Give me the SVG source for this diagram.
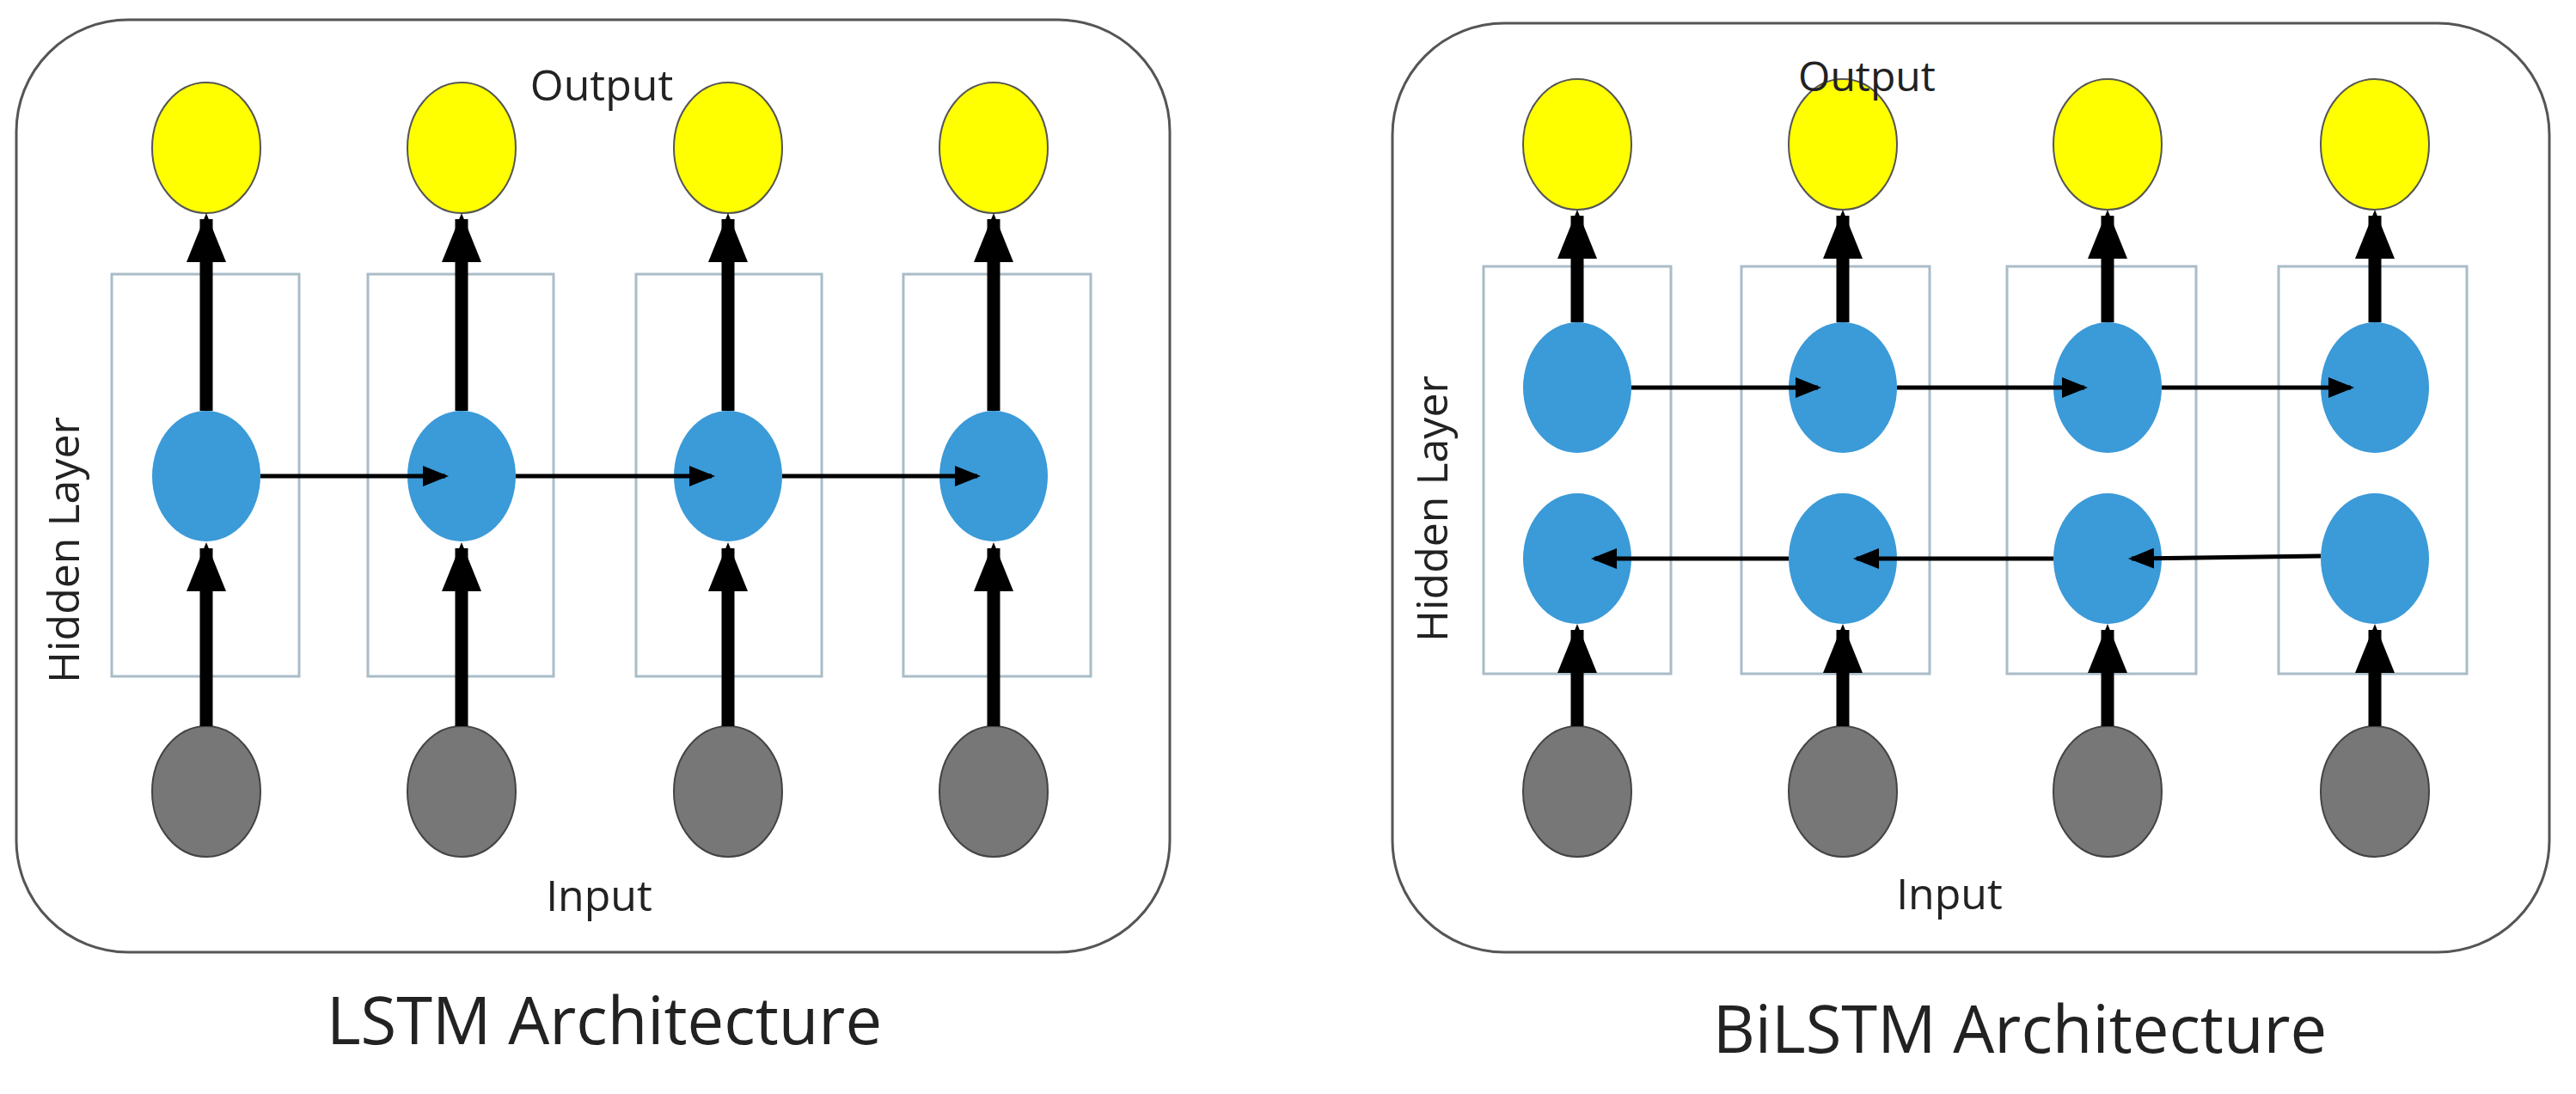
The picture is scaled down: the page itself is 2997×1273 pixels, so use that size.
<svg xmlns="http://www.w3.org/2000/svg" width="2997" height="1273" viewBox="0 0 2997 1273">
<style>
.frame{fill:#fff;stroke:#555;stroke-width:3}
.cell{fill:none;stroke:#a9bcc8;stroke-width:3}
.out{fill:#ffff00;stroke:#555;stroke-width:2}
.hid{fill:#3b9ad8}
.in{fill:#777;stroke:#444;stroke-width:2}
.t{font-family:"Open Sans","Liberation Sans",sans-serif;fill:#222}
.thick{stroke:#000;stroke-width:15;marker-end:url(#big)}
.thin{stroke:#000;stroke-width:5;marker-end:url(#sm)}
</style>
<defs>
<marker id="big" viewBox="0 0 57 46" refX="50" refY="23" markerWidth="57" markerHeight="46" orient="auto" markerUnits="userSpaceOnUse"><path d="M0,0L57,23L0,46z" fill="#000"/></marker>
<marker id="sm" viewBox="0 0 30 24" refX="26" refY="12" markerWidth="30" markerHeight="24" orient="auto" markerUnits="userSpaceOnUse"><path d="M0,0L30,12L0,24z" fill="#000"/></marker>
</defs>
<rect width="2997" height="1273" fill="#fff"/>
<g id="lstm-frame"><rect class="frame" x="19" y="23" width="1342" height="1085" rx="130"/></g>
<g id="bilstm-frame"><rect class="frame" x="1620" y="27" width="1346" height="1081" rx="130"/></g>
<g id="lstm-cells">
<rect class="cell" x="130" y="319" width="218" height="468"/>
<rect class="cell" x="428" y="319" width="216" height="468"/>
<rect class="cell" x="740" y="319" width="216" height="468"/>
<rect class="cell" x="1051" y="319" width="218" height="468"/>
</g>
<g id="bilstm-cells">
<rect class="cell" x="1726" y="310" width="218" height="474"/>
<rect class="cell" x="2026" y="310" width="219" height="474"/>
<rect class="cell" x="2335" y="310" width="220" height="474"/>
<rect class="cell" x="2651" y="310" width="219" height="474"/>
</g>
<g id="lstm-out"><ellipse class="out" cx="240" cy="172" rx="63" ry="76"/><ellipse class="out" cx="537" cy="172" rx="63" ry="76"/><ellipse class="out" cx="847" cy="172" rx="63" ry="76"/><ellipse class="out" cx="1156" cy="172" rx="63" ry="76"/></g>
<g id="lstm-hid"><ellipse class="hid" cx="240" cy="554" rx="63" ry="76"/><ellipse class="hid" cx="537" cy="554" rx="63" ry="76"/><ellipse class="hid" cx="847" cy="554" rx="63" ry="76"/><ellipse class="hid" cx="1156" cy="554" rx="63" ry="76"/></g>
<g id="lstm-in"><ellipse class="in" cx="240" cy="921" rx="63" ry="76"/><ellipse class="in" cx="537" cy="921" rx="63" ry="76"/><ellipse class="in" cx="847" cy="921" rx="63" ry="76"/><ellipse class="in" cx="1156" cy="921" rx="63" ry="76"/></g>
<g id="bi-out"><ellipse class="out" cx="1835" cy="168" rx="63" ry="76"/><ellipse class="out" cx="2144" cy="168" rx="63" ry="76"/><ellipse class="out" cx="2452" cy="168" rx="63" ry="76"/><ellipse class="out" cx="2763" cy="168" rx="63" ry="76"/></g>
<g id="bi-fwd"><ellipse class="hid" cx="1835" cy="451" rx="63" ry="76"/><ellipse class="hid" cx="2144" cy="451" rx="63" ry="76"/><ellipse class="hid" cx="2452" cy="451" rx="63" ry="76"/><ellipse class="hid" cx="2763" cy="451" rx="63" ry="76"/></g>
<g id="bi-bwd"><ellipse class="hid" cx="1835" cy="650" rx="63" ry="76"/><ellipse class="hid" cx="2144" cy="650" rx="63" ry="76"/><ellipse class="hid" cx="2452" cy="650" rx="63" ry="76"/><ellipse class="hid" cx="2763" cy="650" rx="63" ry="76"/></g>
<g id="bi-in"><ellipse class="in" cx="1835" cy="921" rx="63" ry="76"/><ellipse class="in" cx="2144" cy="921" rx="63" ry="76"/><ellipse class="in" cx="2452" cy="921" rx="63" ry="76"/><ellipse class="in" cx="2763" cy="921" rx="63" ry="76"/></g>
<g id="connectors">
<line class="thick" x1="240" y1="845" x2="240" y2="638"/>
<line class="thick" x1="537" y1="845" x2="537" y2="638"/>
<line class="thick" x1="847" y1="845" x2="847" y2="638"/>
<line class="thick" x1="1156" y1="845" x2="1156" y2="638"/>
<line class="thick" x1="240" y1="478" x2="240" y2="255"/>
<line class="thick" x1="537" y1="478" x2="537" y2="255"/>
<line class="thick" x1="847" y1="478" x2="847" y2="255"/>
<line class="thick" x1="1156" y1="478" x2="1156" y2="255"/>
<line class="thin" x1="303" y1="554" x2="518" y2="554"/>
<line class="thin" x1="600" y1="554" x2="828" y2="554"/>
<line class="thin" x1="910" y1="554" x2="1137" y2="554"/>
<line class="thick" x1="1835" y1="845" x2="1835" y2="733"/>
<line class="thick" x1="2144" y1="845" x2="2144" y2="733"/>
<line class="thick" x1="2452" y1="845" x2="2452" y2="733"/>
<line class="thick" x1="2763" y1="845" x2="2763" y2="733"/>
<line class="thick" x1="1835" y1="375" x2="1835" y2="251"/>
<line class="thick" x1="2144" y1="375" x2="2144" y2="251"/>
<line class="thick" x1="2452" y1="375" x2="2452" y2="251"/>
<line class="thick" x1="2763" y1="375" x2="2763" y2="251"/>
<line class="thin" x1="1898" y1="451" x2="2115" y2="451"/>
<line class="thin" x1="2207" y1="451" x2="2425" y2="451"/>
<line class="thin" x1="2515" y1="451" x2="2735" y2="451"/>
<line class="thin" x1="2700" y1="647" x2="2480" y2="650"/>
<line class="thin" x1="2389" y1="650" x2="2160" y2="650"/>
<line class="thin" x1="2081" y1="650" x2="1855" y2="650"/>
</g>
<g id="labels" class="t" text-anchor="middle">
<text x="700" y="117" font-size="50">Output</text>
<text x="697" y="1060" font-size="50">Input</text>
<text transform="translate(92,640) rotate(-90)" font-size="50">Hidden Layer</text>
<text x="703" y="1215" font-size="76">LSTM Architecture</text>
<text x="2172" y="106" font-size="48">Output</text>
<text x="2268" y="1058" font-size="50">Input</text>
<text transform="translate(1684,592) rotate(-90)" font-size="50">Hidden Layer</text>
<text x="2350" y="1225" font-size="76">BiLSTM Architecture</text>
</g>
</svg>
